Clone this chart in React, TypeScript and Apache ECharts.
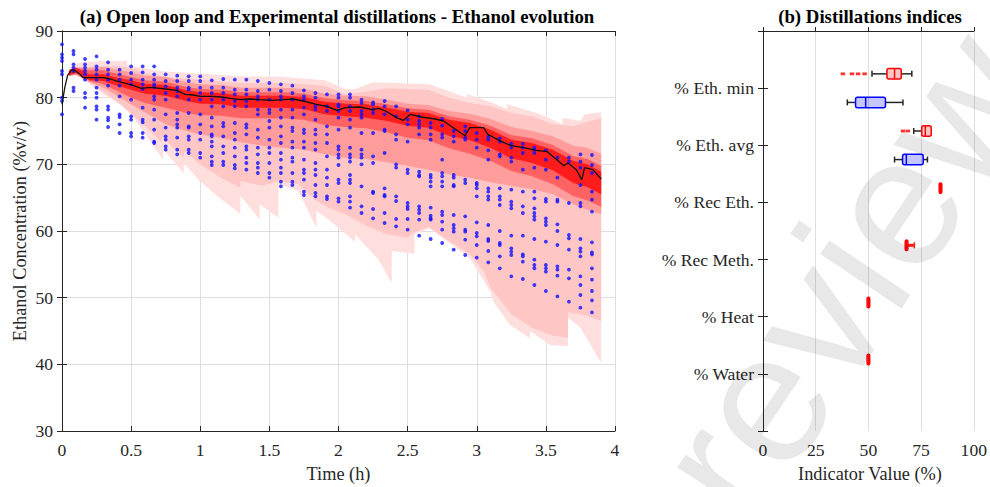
import React, { useEffect, useRef } from 'react';
import * as echarts from 'echarts';

const FONT = '"Liberation Serif", "Times New Roman", serif';
const TXT = '#262626';

// ---------- Panel (a) data ----------
// measured (experimental) samples, one column every 5 min (1/12 h)
const sampleStep = 1 / 12;
const dotColumns: number[][] = [
  [88, 86.5, 86, 85.5, 84, 83.5, 80, 79.5, 77.5],
  [87, 86.5, 85, 84.5, 84, 81.5, 81],
  [85.8, 85, 84.5, 84, 83.5, 82.7, 80.7, 80, 78.5],
  [86.2, 84.7, 84.2, 83.5, 82.7, 81.5, 80.7, 80, 78.7, 78.2, 76.7],
  [85.3, 84.2, 83.5, 82.7, 81.8, 78.7, 78.2, 77, 76.6, 75.6],
  [84.2, 83.5, 82.7, 81.8, 80.2, 77.5, 77.1, 76, 74.7],
  [84.7, 83.7, 82.7, 82, 79.7, 77.2, 76.7, 74.7, 74.2],
  [84.7, 83.8, 82.7, 82, 81.3, 78.5, 76.7, 76.3, 74.7, 74],
  [84.7, 83.5, 82.7, 82, 81.6, 80.2, 79.7, 78.2, 76.7, 75.2, 73.4, 73.2],
  [83.5, 82.5, 81.7, 80.7, 79.7, 77.5, 75.5, 74.2, 73.7, 72.7, 72.2],
  [83.3, 82.5, 81.5, 81, 80.2, 77.7, 76.7, 76, 75.5, 74, 72.2, 71.5],
  [83.2, 82.5, 81.5, 81.2, 79.7, 77.7, 75.7, 75.5, 74.2, 73.7, 72.2, 71.7],
  [83.2, 82.5, 81.5, 80.7, 79.7, 77.5, 76, 74.7, 73.7, 71.7, 71],
  [82.6, 81.5, 80.7, 79.7, 78.7, 77, 75.7, 74.5, 74.2, 73.4, 72.7, 71.2, 70.4, 69.9],
  [82.8, 81.5, 80.7, 79.7, 78.7, 76.2, 75.7, 74.2, 72.7, 71.7, 70.4, 69.9],
  [82.7, 81.2, 80.5, 79.5, 78.7, 76.2, 74.7, 73.7, 72.5, 71.2, 69.9, 69.4],
  [82.7, 81.2, 80.5, 79.5, 78.7, 76, 75.5, 74.5, 72.7, 72.2, 71, 70.2, 69.2],
  [82.5, 81, 80.2, 79.7, 78.2, 77.5, 75.2, 74, 72.5, 71.5, 70.2, 69.5, 68.7],
  [82.2, 81.2, 79.7, 78.2, 77.7, 76.5, 75.5, 73.7, 72.5, 71.7, 70.2, 68.7, 68],
  [82, 81, 80.2, 79.7, 78.2, 77, 75.7, 74.2, 73.2, 71.7, 70.7, 69.5, 68.7, 67.4, 66.7],
  [81.8, 80.7, 79.7, 78.2, 77, 75.5, 75, 73.4, 72.5, 71, 70.4, 68.7, 67.4, 66.9],
  [81.1, 80.2, 79.7, 78.5, 77.5, 75.2, 74.7, 73.4, 72.5, 70.7, 69.2, 68.7, 67.7, 65.9, 65.4],
  [80.7, 80, 78.7, 78.2, 76.7, 75.2, 74.5, 73.2, 72.2, 70.2, 69.2, 68.4, 66.9, 65.7, 65.2],
  [80.5, 78.7, 78, 75.7, 74.5, 73.2, 71.2, 69.2, 68, 66.9, 65.2, 64.8],
  [80.5, 80, 79, 78.7, 78, 77, 75.2, 72.7, 72.2, 71.5, 71, 69.9, 67.7, 67.2, 64.9, 64.4],
  [80.5, 80, 78.7, 78, 76.7, 75.5, 72.5, 71.5, 71, 70.4, 68.4, 67.7, 67.2, 65.2, 64.4, 63.5],
  [79.7, 79.2, 78, 77.5, 77, 74.7, 72.2, 71.5, 71, 70, 66.7, 63.7, 62.7],
  [79.3, 79, 78.2, 77.7, 74.7, 71.2, 70.2, 65.9, 65.7, 63.3, 61.9],
  [79.5, 78.7, 77.5, 75.2, 75, 71.7, 66.4, 65.4, 65.2, 62.7, 61.2],
  [78.7, 77.2, 74.5, 73.7, 70, 69.5, 65.2, 64.5, 61.8, 60.7],
  [78.1, 76.7, 76, 73.4, 69.2, 68.7, 64.2, 63.7, 63.3, 61.8, 60.2],
  [77.2, 76.5, 76, 75.5, 74.5, 68.9, 68.4, 68.2, 63.7, 63.2, 62.7, 61.7, 59.3],
  [76.2, 75.5, 74.5, 73.7, 68.4, 68, 67.4, 66.7, 63.5, 62.3, 61.9, 61.7, 58.8],
  [76.8, 75.8, 74.5, 74, 70.7, 68.7, 68.2, 67.4, 66.7, 62.9, 62.4, 61.4, 60.2, 58.2],
  [75, 74.2, 73.4, 68.4, 68, 66.9, 66.7, 62.4, 60.9, 60.4, 59.9, 57.2],
  [75.7, 75, 74, 73.7, 67.7, 67.2, 62.2, 60.2, 59.9, 58.7, 56.4],
  [74.7, 73.7, 72.5, 67.2, 66.9, 66.4, 65.2, 61.3, 59.7, 59.2, 57.9, 56],
  [74.1, 73.7, 72.1, 70.7, 66.4, 65.9, 65.2, 64.7, 60.9, 58.8, 58.5, 57, 55.3],
  [73.9, 73.4, 71.5, 71.2, 66.4, 65.2, 64.7, 63.9, 60, 58.2, 57.9, 56.2, 54.4],
  [73.1, 72.5, 71, 70.4, 66.2, 64.4, 63.9, 63.4, 59.3, 57.4, 56.9, 56.4, 53.2],
  [73.1, 72.5, 71.7, 69.2, 65.9, 63.7, 62.7, 59.3, 56.5, 56.2, 55.4, 52.8],
  [72.5, 72.2, 71.7, 69.5, 65.9, 64.9, 63.4, 62.7, 62.2, 61.7, 58.8, 55.7, 54.9, 54.4, 51.9],
  [72.1, 70.7, 69.2, 64.8, 64.4, 61.9, 61.4, 60.9, 58.4, 54.9, 54.4, 53.9, 51],
  [71, 68, 64.7, 64.4, 61, 60, 57.9, 54.7, 54.2, 53.3, 50.2],
  [71, 70.4, 64.2, 59.4, 58.9, 57.2, 54.2, 52.9, 49.4],
  [71.5, 70.4, 69.5, 66.9, 64.2, 63.7, 58.8, 57.4, 56.9, 56.2, 53.2, 51.9, 50.4, 48.5],
  [71.4, 69.9, 68.7, 65.9, 64.7, 62.9, 58.3, 56.8, 56.5, 54.4, 52.7, 51, 49.6, 47.8],
];

// mean (closed-loop) trajectory
const meanLine: [number, number][] = [
  [0, 79.0], [0.02, 81.5], [0.04, 83.3], [0.07, 84.2], [0.1, 84.0], [0.13, 83.5], [0.154, 83.0],
  [0.2, 83.0], [0.3, 83.0], [0.35, 82.8], [0.41, 82.4], [0.49, 82.0], [0.576, 81.4], [0.62, 81.5],
  [0.66, 81.5], [0.75, 81.3], [0.83, 81.1], [0.89, 80.5], [0.95, 80.4], [1.0, 80.2], [1.08, 80.2],
  [1.155, 80.1], [1.22, 79.9], [1.29, 79.7], [1.36, 79.8], [1.43, 79.7], [1.52, 79.6], [1.6, 79.7],
  [1.67, 79.8], [1.745, 79.5], [1.84, 79.0], [1.915, 78.7], [1.99, 78.1], [2.05, 78.5], [2.155, 78.6],
  [2.24, 78.2], [2.29, 78.4], [2.34, 78.0], [2.42, 77.0], [2.47, 76.6], [2.52, 77.5], [2.6, 77.1],
  [2.7, 76.8], [2.76, 76.5], [2.83, 75.5], [2.915, 74.3], [2.95, 75.5], [3.05, 75.5], [3.08, 74.5],
  [3.18, 73.4], [3.25, 72.8], [3.34, 72.5], [3.43, 72.1], [3.51, 71.9], [3.58, 70.7], [3.63, 69.8],
  [3.66, 70.2], [3.72, 69.2], [3.76, 67.7], [3.78, 69.5], [3.84, 69.2], [3.9, 67.8],
];

// open-loop prediction bands
const bandTimes = [0.05, 0.1, 0.2, 0.3, 0.4, 0.5, 0.6, 0.75, 0.9, 1.0, 1.15, 1.3, 1.45, 1.6, 1.75, 1.9,
  2.05, 2.2, 2.35, 2.5, 2.65, 2.8, 2.95, 3.1, 3.25, 3.4, 3.55, 3.7, 3.8, 3.9];
const outerUpper: [number, number][] = [
  [0.05, 84.4], [0.1, 85.1], [0.15, 85.3], [0.3, 85.5], [0.47, 85.5], [0.47, 84.9], [0.7, 84.0],
  [1.0, 83.6], [1.3, 83.2], [1.6, 83.1], [1.9, 82.6], [2.05, 81.3], [2.12, 81.3], [2.25, 82.3],
  [2.66, 82.0], [2.93, 80.0], [2.93, 80.6], [3.1, 79.3], [3.22, 78.3], [3.22, 79.0], [3.46, 77.5],
  [3.62, 76.0], [3.62, 77.0], [3.75, 76.5], [3.78, 77.5], [3.9, 77.8],
];
const outerLower: [number, number][] = [
  [0.05, 84.0], [0.1, 83.8], [0.17, 82.5], [0.3, 80.5], [0.47, 78.4], [0.6, 74.6], [0.73, 70.7],
  [0.73, 72.3], [0.88, 68.7], [0.88, 70.2], [1.0, 67.4], [1.15, 64.8], [1.29, 62.6], [1.29, 65.3],
  [1.43, 61.7], [1.43, 64.0], [1.565, 62.0], [1.565, 67.0], [1.71, 66.0], [1.84, 60.4], [1.84, 63.0],
  [1.93, 61.7], [2.12, 58.4], [2.12, 59.5], [2.29, 55.7], [2.385, 52.2], [2.385, 57.0], [2.55, 56.6],
  [2.55, 59.5], [2.66, 60.4], [2.95, 55.9], [3.1, 50.9], [3.12, 49.4], [3.24, 45.9], [3.385, 43.9],
  [3.385, 45.0], [3.53, 42.9], [3.66, 42.7], [3.66, 47.0], [3.75, 45.5], [3.85, 42.0], [3.9, 40.2],
];
const wideLower: [number, number][] = [
  [0.05, 84.0], [0.1, 83.8], [0.2, 82.3], [0.3, 80.9], [0.4, 79.4], [0.5, 77.6], [0.6, 75.8],
  [0.72, 73.3], [0.72, 74.2], [0.88, 71.0], [0.88, 72.0], [1.0, 70.0], [1.15, 68.0], [1.29, 66.5],
  [1.29, 67.5], [1.45, 66.8], [1.565, 67.5], [1.71, 67.0], [1.84, 64.5], [1.93, 63.5], [2.05, 62.5],
  [2.2, 60.8], [2.35, 59.5], [2.5, 59.0], [2.55, 59.8], [2.65, 60.6], [2.8, 58.5], [2.95, 56.5],
  [3.05, 54.0], [3.1, 51.5], [3.25, 47.5], [3.4, 45.5], [3.55, 44.3], [3.66, 44.0], [3.66, 47.8],
  [3.8, 47.3], [3.9, 46.5],
];
const wideUpper = [84.2, 84.6, 84.6, 84.7, 84.7, 84.5, 83.7, 83.1, 82.8, 82.7, 82.4, 82.2, 82.2, 82.2,
  82.0, 81.8, 80.5, 80.9, 81.4, 81.3, 81.2, 80.0, 79.2, 78.7, 77.7, 77.2, 76.0, 75.7, 76.4, 76.9];
const midUpper = [84.2, 84.5, 84.5, 84.6, 84.2, 83.8, 83.3, 83.1, 82.3, 82.0, 81.9, 81.5, 81.5, 81.5,
  81.3, 80.6, 80.3, 80.2, 79.7, 79.1, 78.9, 78.0, 77.6, 76.8, 75.6, 75.0, 74.2, 72.8, 72.5, 71.6];
const midLower = [83.2, 83.4, 82.3, 81.5, 80.3, 79.0, 77.8, 76.0, 75.0, 74.5, 74.0, 73.3, 72.8, 72.5,
  72.2, 71.5, 71.0, 70.8, 70.3, 69.8, 69.2, 68.5, 68.0, 67.3, 66.8, 66.3, 65.5, 64.0, 63.2, 62.5];
const innerUpper = [84.1, 84.5, 84.1, 84.1, 83.6, 83.1, 82.6, 82.4, 81.6, 81.3, 81.2, 80.8, 80.8, 80.8,
  80.6, 79.9, 79.6, 79.5, 79.0, 78.4, 78.2, 77.2, 76.7, 75.8, 74.4, 73.9, 72.9, 71.2, 70.8, 69.8];
const innerLower = [83.3, 83.6, 82.5, 82.0, 81.0, 80.0, 79.2, 78.5, 77.7, 77.4, 77.3, 76.9, 76.9, 76.9,
  76.7, 75.9, 75.6, 75.4, 74.8, 74.0, 73.6, 72.4, 71.6, 70.5, 69.0, 68.2, 67.0, 65.2, 64.6, 63.6];
const coreUpper = [84.0, 84.5, 83.5, 83.5, 83.0, 82.6, 82.1, 81.9, 81.1, 80.8, 80.7, 80.3, 80.3, 80.3,
  80.1, 79.4, 79.1, 79.0, 78.5, 77.9, 77.7, 76.7, 76.2, 75.2, 73.7, 73.2, 72.2, 70.5, 70.0, 68.9];
const coreLower = [83.4, 83.7, 82.6, 82.5, 81.8, 81.2, 80.6, 80.3, 79.5, 79.1, 79.0, 78.5, 78.5, 78.5,
  78.3, 77.5, 77.2, 77.0, 76.5, 75.8, 75.5, 74.3, 73.6, 72.5, 70.9, 70.2, 69.1, 67.2, 66.6, 65.5];

const xTicksA = { min: 0, max: 4, interval: 0.5 };
const yTicksA = { min: 30, max: 90, interval: 10 };

// ---------- Panel (b) data ----------
const indices = ['% Eth. min', '% Eth. avg', '% Rec Eth.', '% Rec Meth.', '% Heat', '% Water'];
// [min whisker, Q1, median, Q3, max whisker]
const openLoopStats: number[][] = [
  [51.7, 58.8, 62.4, 65.6, 70.6],
  [71.5, 75.3, 77.0, 79.8, 80.2],
  [83.9, 84.0, 84.2, 84.4, 84.5],
  [67.5, 67.6, 68.0, 68.6, 71.8],
  [49.9, 49.95, 50.0, 50.05, 50.1],
  [49.9, 49.95, 50.0, 50.05, 50.1],
];
const experimentalStats: number[][] = [
  [40.0, 43.9, 48.7, 58.1, 66.4],
  [62.4, 66.2, 68.0, 76.0, 78.0],
];
const openLoopOutliers: number[][] = [[37.9, 42.2, 45.1, 48.2], [66.4, 68.7], [], [], [], []];
const xTicksB = [0, 25, 50, 75, 100];

const bandColors = ['#ffdede', '#ffc6c6', '#ff9c9c', '#ff6262', '#ff1c1c'];

export default function App() {
  const ref = useRef<HTMLDivElement>(null);
  useEffect(() => {
    if (!ref.current) return;
    const chart = echarts.init(ref.current, undefined, { renderer: 'svg' });

    const zip = (arr: number[]) => bandTimes.map((t, i) => [t, arr[i]] as [number, number]);
    const bands = [
      { upper: outerUpper, lower: outerLower, color: bandColors[0] },
      { upper: zip(wideUpper), lower: wideLower, color: bandColors[1] },
      { upper: zip(midUpper), lower: zip(midLower), color: bandColors[2] },
      { upper: zip(innerUpper), lower: zip(innerLower), color: bandColors[3] },
      { upper: zip(coreUpper), lower: zip(coreLower), color: bandColors[4] },
    ];

    const dots: number[][] = [];
    dotColumns.forEach((col, k) => col.forEach((v) => dots.push([k * sampleStep, v])));

    const boxData: number[][] = [];
    openLoopStats.forEach((s, i) => {
      boxData.push([i + 1 - 0.25, ...s, 0, i === 3 ? 1 : 0]);
    });
    experimentalStats.forEach((s, i) => {
      boxData.push([i + 1 + 0.25, ...s, 1, 0]);
    });
    const outlierData: number[][] = [];
    openLoopOutliers.forEach((arr, i) => arr.forEach((v) => outlierData.push([v, i + 1 - 0.25])));

    const axisLineStyle = { lineStyle: { color: TXT, width: 1 } };
    const tickStyle = { inside: true, length: 5, lineStyle: { color: TXT } };
    const labelStyle = { fontFamily: FONT, fontSize: 17.6, color: TXT };
    const gridLine = { show: true, lineStyle: { color: '#dedede', width: 1 } };
    const centered = { align: 'center', verticalAlign: 'middle', textAlign: 'center', textVerticalAlign: 'middle' };

    const option: any = {
      animation: false,
      backgroundColor: '#ffffff',
      grid: [
        { left: 62, top: 31, right: 375, bottom: 56 },
        { left: 763, top: 31, right: 16, bottom: 56 },
      ],
      xAxis: [
        {
          gridIndex: 0, type: 'value', ...xTicksA, position: 'bottom',
          axisLine: axisLineStyle, axisTick: tickStyle,
          axisLabel: { ...labelStyle, margin: 10 }, splitLine: gridLine,
        },
        {
          gridIndex: 0, type: 'value', ...xTicksA, position: 'top',
          axisLine: axisLineStyle, axisTick: tickStyle, axisLabel: { show: false }, splitLine: { show: false },
        },
        {
          gridIndex: 1, type: 'value', min: 0, max: 100, interval: 25, position: 'bottom',
          axisLine: axisLineStyle, axisTick: { ...tickStyle, length: 4 },
          axisLabel: { ...labelStyle, margin: 10, formatter: (v: number) => (xTicksB.includes(v) ? String(v) : '') },
          splitLine: gridLine,
        },
        {
          gridIndex: 1, type: 'value', min: 0, max: 100, interval: 25, position: 'top',
          axisLine: axisLineStyle, axisTick: { show: false }, axisLabel: { show: false }, splitLine: { show: false },
        },
      ],
      yAxis: [
        {
          gridIndex: 0, type: 'value', ...yTicksA, position: 'left',
          axisLine: { show: true, ...axisLineStyle }, axisTick: { show: true, ...tickStyle },
          axisLabel: { ...labelStyle, margin: 9 }, splitLine: gridLine,
        },
        {
          gridIndex: 0, type: 'value', ...yTicksA, position: 'right',
          axisLine: { show: true, ...axisLineStyle }, axisTick: { show: true, ...tickStyle },
          axisLabel: { show: false }, splitLine: { show: false },
        },
        {
          gridIndex: 1, type: 'value', min: 0, max: 7, interval: 1, inverse: true, position: 'left',
          axisLine: { show: true, ...axisLineStyle }, axisTick: { show: true, ...tickStyle },
          axisLabel: {
            ...labelStyle, margin: 9,
            formatter: (v: number) => indices[v - 1] ?? '',
          },
          splitLine: { show: false },
        },
        {
          gridIndex: 1, type: 'value', min: 0, max: 7, interval: 1, inverse: true, position: 'right',
          axisLine: { show: true, ...axisLineStyle }, axisTick: { show: true, ...tickStyle },
          axisLabel: { show: false }, splitLine: { show: false },
        },
      ],
      graphic: [
        {
          type: 'text', x: 337, y: 16, z: 10,
          style: { text: '(a) Open loop and Experimental distillations - Ethanol evolution', fontFamily: FONT, fontSize: 18.8, fontWeight: 'bold', fill: '#000', ...centered },
        },
        {
          type: 'text', x: 870, y: 16, z: 10,
          style: { text: '(b) Distillations indices', fontFamily: FONT, fontSize: 18.8, fontWeight: 'bold', fill: '#000', ...centered },
        },
        {
          type: 'text', x: 20, y: 231, rotation: Math.PI / 2, z: 10,
          style: { text: 'Ethanol Concentration (%v/v)', fontFamily: FONT, fontSize: 18.3, fill: TXT, ...centered },
        },
        {
          type: 'text', x: 338.5, y: 474, z: 10,
          style: { text: 'Time (h)', fontFamily: FONT, fontSize: 18.3, fill: TXT, ...centered },
        },
        {
          type: 'text', x: 870, y: 474, z: 10,
          style: { text: 'Indicator Value (%)', fontFamily: FONT, fontSize: 18.3, fill: TXT, ...centered },
        },
        {
          type: 'text', x: 775, y: 548, rotation: 0.98, z: 100,
          style: { text: 'review', fontFamily: '"Liberation Sans", Arial, sans-serif', fontSize: 185, fill: 'rgba(0,0,0,0.09)', align: 'left', verticalAlign: 'bottom', textAlign: 'left', textVerticalAlign: 'bottom' },
        },
      ],
      series: [
        {
          type: 'custom', xAxisIndex: 0, yAxisIndex: 0, silent: true, clip: true, z: 2,
          data: bands.map((b, i) => [b.upper[0][0], b.upper[0][1], i]),
          encode: { x: 0, y: 1 },
          renderItem: (params: any, api: any) => {
            const b = bands[params.dataIndex];
            const pts = [...b.upper, ...b.lower.slice().reverse()].map((p) => api.coord(p));
            return { type: 'polygon', shape: { points: pts }, style: { fill: b.color, stroke: 'none' } };
          },
        },
        {
          type: 'scatter', xAxisIndex: 0, yAxisIndex: 0, silent: true, z: 3,
          symbol: 'circle', symbolSize: 3.8,
          itemStyle: { color: '#1010ff' },
          data: dots,
        },
        {
          type: 'line', xAxisIndex: 0, yAxisIndex: 0, silent: true, z: 4,
          symbol: 'none', lineStyle: { color: '#111', width: 1.3 },
          data: meanLine,
        },
        {
          type: 'custom', xAxisIndex: 2, yAxisIndex: 2, silent: true, z: 3,
          data: boxData,
          encode: { x: [1, 2, 3, 4, 5], y: 0 },
          renderItem: (params: any, api: any) => {
            const pos = api.value(0);
            const [xMin, y] = api.coord([api.value(1), pos]);
            const xQ1 = api.coord([api.value(2), pos])[0];
            const xMed = api.coord([api.value(3), pos])[0];
            const xQ3 = api.coord([api.value(4), pos])[0];
            const xMax = api.coord([api.value(5), pos])[0];
            const blue = api.value(6) === 1;
            const redWhisk = api.value(7) === 1;
            const col = blue ? '#0000ff' : '#ff0000';
            const fill = blue ? 'rgba(0,0,255,0.22)' : 'rgba(255,0,0,0.22)';
            const wcol = redWhisk ? '#ff1a1a' : '#262626';
            const h = 10.5;
            const ch = 6;
            let bx = xQ1;
            let bw = xQ3 - xQ1;
            if (bw < 2.6) { bx = (xQ1 + xQ3) / 2 - 1.3; bw = 2.6; }
            const children: any[] = [];
            if (xMin < bx - 1) {
              children.push({ type: 'line', shape: { x1: xMin, y1: y, x2: bx, y2: y }, style: { stroke: wcol, lineWidth: 1.5 } });
              children.push({ type: 'line', shape: { x1: xMin, y1: y - ch / 2, x2: xMin, y2: y + ch / 2 }, style: { stroke: wcol, lineWidth: 1.5 } });
            }
            if (xMax > bx + bw + 1) {
              children.push({ type: 'line', shape: { x1: bx + bw, y1: y, x2: xMax, y2: y }, style: { stroke: wcol, lineWidth: redWhisk ? 3 : 1.5 } });
              children.push({ type: 'line', shape: { x1: xMax, y1: y - ch / 2, x2: xMax, y2: y + ch / 2 }, style: { stroke: wcol, lineWidth: 1.5 } });
            }
            children.push({ type: 'rect', shape: { x: bx, y: y - h / 2, width: bw, height: h, r: 2 }, style: { fill, stroke: col, lineWidth: 1.5 } });
            children.push({ type: 'line', shape: { x1: xMed, y1: y - h / 2, x2: xMed, y2: y + h / 2 }, style: { stroke: col, lineWidth: 1.5 } });
            return { type: 'group', children };
          },
        },
        {
          type: 'scatter', xAxisIndex: 2, yAxisIndex: 2, silent: true, z: 3,
          symbol: 'rect', symbolSize: [4.5, 2.8],
          itemStyle: { color: '#ff0000' },
          data: outlierData,
        },
      ],
    };
    chart.setOption(option);
    return () => chart.dispose();
  }, []);
  return <div ref={ref} style={{ position: 'fixed', left: 0, top: 0, width: 990, height: 487, background: '#fff' }} />;
}
